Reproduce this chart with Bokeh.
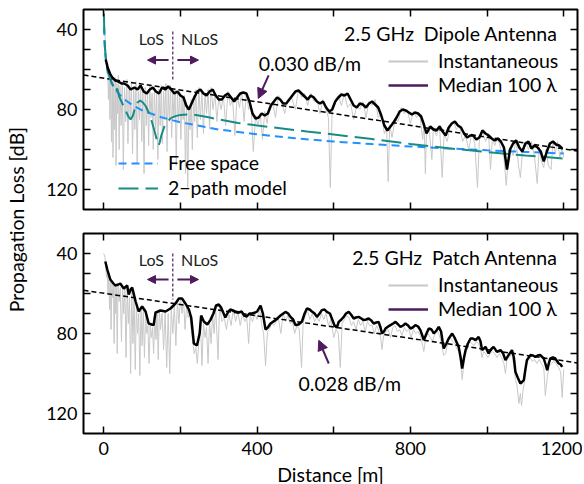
import numpy as np
from bokeh.plotting import figure
from bokeh.models import (Range1d, FixedTicker, LinearAxis, Legend, LegendItem,
                          Label, Arrow, NormalHead, Div)
from bokeh.layouts import row, column
from bokeh.embed import file_html
from bokeh.resources import INLINE

FONT = "Lato"
GRAY = "#c8c8c8"
PURPLE = "#4f1b5e"
BLUE = "#2390ff"
TEAL = "#178c86"

# ---------------- data ----------------
x_ticks = [0, 200, 400, 600, 800, 1000, 1200]
x_tick_labels = {0: "0", 200: "", 400: "400", 600: "", 800: "800", 1000: "", 1200: "1200"}
y_ticks = [40, 50, 60, 70, 80, 90, 100, 110, 120]
y_tick_labels = {40: "40", 50: "", 60: "", 70: "", 80: "80", 90: "", 100: "", 110: "", 120: "120"}

# top panel (dipole): instantaneous
top_inst_d = [0, 2, 4, 6, 8, 10, 12, 14, 16, 18,
              20, 22, 24, 26, 28, 30, 32, 34, 36, 38,
              40, 42, 45, 48, 51, 54, 57, 60, 63, 66,
              69, 72, 75, 78, 81, 84, 87, 90, 93, 96,
              99, 102, 105, 108, 111, 114, 117, 120, 123, 126,
              129, 132, 135, 138, 141, 144, 147, 150, 153, 156,
              159, 162, 165, 168, 171, 174, 177, 180, 183, 186,
              189, 192, 195, 198, 201, 204, 207, 210, 213, 216,
              219, 222, 225, 228, 231, 234, 237, 240, 244, 248,
              252, 256, 260, 264, 268, 272, 276, 280, 285, 290,
              295, 300, 306, 312, 318, 324, 330, 336, 342, 348,
              354, 360, 366, 372, 378, 384, 390, 396, 402, 408,
              414, 420, 426, 432, 440, 448, 456, 464, 472, 480,
              490, 500, 508, 516, 524, 532, 540, 548, 556, 564,
              572, 580, 586, 591, 596, 604, 612, 620, 628, 636,
              644, 652, 660, 668, 676, 684, 692, 700, 708, 716,
              724, 732, 738, 742, 746, 752, 760, 768, 776, 784,
              792, 800, 808, 816, 824, 832, 836, 839, 842, 848,
              856, 860, 868, 876, 883, 888, 896, 904, 912, 920,
              928, 936, 944, 952, 960, 968, 975, 980, 988, 996,
              1004, 1009, 1014, 1020, 1028, 1036, 1044, 1050, 1054, 1060,
              1068, 1076, 1082, 1087, 1092, 1100, 1108, 1116, 1124, 1131,
              1136, 1142, 1148, 1154, 1160, 1167, 1172, 1178, 1184, 1190,
              1196, 1200]
top_inst_db = [20, 38, 47, 53, 62, 57, 75, 60, 85, 62,
               96, 64, 104, 66, 90, 64, 108, 67, 82, 63,
               100, 68, 88, 66, 110, 69, 86, 65, 97, 70,
               84, 67, 102, 69, 90, 66, 107, 71, 85, 67,
               96, 70, 112, 69, 88, 71, 98, 68, 84, 72,
               100, 69, 90, 72, 105, 70, 88, 68, 97, 71,
               85, 67, 101, 70, 86, 68, 94, 72, 84, 70,
               108, 72, 86, 71, 95, 74, 85, 73, 112, 77,
               119, 79, 90, 75, 100, 73, 86, 70, 94, 69,
               85, 71, 92, 72, 82, 70, 90, 69, 80, 72,
               86, 74, 80, 73, 88, 71, 78, 75, 93, 73,
               79, 71, 86, 72, 80, 78, 101, 83, 88, 82,
               95, 81, 87, 79, 76, 84, 73, 76, 82, 75,
               74, 80, 70, 74, 72, 78, 72, 76, 75, 82,
               75, 80, 84, 119, 79, 75, 73, 78, 72, 79,
               77, 85, 78, 80, 76, 84, 76, 78, 75, 84,
               82, 92, 89, 116, 88, 94, 85, 86, 79, 82,
               80, 87, 81, 84, 82, 95, 87, 112, 91, 88,
               105, 89, 93, 88, 114, 92, 96, 88, 86, 90,
               88, 96, 93, 100, 92, 97, 119, 95, 91, 96,
               92, 110, 94, 98, 94, 100, 104, 118, 108, 99,
               103, 95, 108, 114, 102, 96, 100, 96, 104, 117,
               99, 106, 109, 100, 108, 110, 96, 102, 96, 104,
               99, 104]

# top panel: median over 100 lambda
top_med_d = [5, 10, 16, 22, 30, 38, 46, 53, 62, 70,
             80, 88, 96, 104, 112, 120, 128, 136, 144, 152,
             160, 168, 176, 184, 192, 200, 208, 215, 222, 229,
             236, 244, 252, 260, 268, 276, 284, 292, 300, 308,
             316, 324, 332, 340, 348, 356, 364, 372, 380, 388,
             396, 404, 412, 420, 428, 436, 444, 452, 460, 468,
             476, 484, 492, 500, 508, 516, 524, 532, 540, 548,
             556, 564, 572, 580, 588, 596, 604, 612, 620, 628,
             636, 644, 652, 660, 668, 676, 684, 692, 700, 708,
             716, 724, 732, 740, 748, 756, 764, 772, 780, 788,
             796, 804, 812, 820, 828, 836, 842, 852, 860, 868,
             876, 884, 892, 900, 908, 916, 924, 932, 940, 948,
             956, 964, 972, 980, 988, 996, 1004, 1012, 1020, 1028,
             1036, 1044, 1052, 1060, 1068, 1076, 1084, 1092, 1100, 1108,
             1116, 1124, 1132, 1140, 1148, 1156, 1164, 1172, 1180, 1188,
             1196]
top_med_db = [55, 59, 62, 64, 65.5, 66, 67, 67, 68, 70,
              69, 70, 68, 71, 72, 70, 69, 71, 72, 69,
              70, 68.5, 70, 72, 71, 73, 74, 78, 80, 77,
              74, 71, 70, 72, 73, 71, 70, 73, 75, 75,
              73, 72, 74, 76, 74, 72, 71.5, 72, 76, 82,
              84.5, 84, 82, 83, 82, 78, 76, 74, 75, 77,
              77, 75, 73, 71, 70.5, 72, 73.5, 75, 73, 74,
              76, 77, 76, 79, 81, 80, 76, 74, 72.5, 73,
              72, 75, 78, 79, 77, 77.5, 79, 77, 76, 77.5,
              79, 83, 88, 90.5, 88.5, 86.5, 84, 81, 80, 80.5,
              81.5, 82.5, 81.5, 82, 83.5, 88, 92, 88.5, 90, 90.5,
              88.5, 91, 93, 89, 87, 86, 88, 89, 92, 94,
              93, 93, 95, 94, 90.5, 92, 93, 94.5, 95.5, 94.5,
              96, 99, 110, 100, 97, 95.5, 99, 101, 97, 96,
              99.5, 98, 99, 101, 106, 101, 97, 96, 97.5, 98,
              99.5]

top_trend_d = [-53, 1236]
top_trend_db = [62.8, 100.8]

# free-space and 2-path model curves (top panel)
fs_d = [0.4, 1, 2, 3, 5, 8, 12, 20, 30, 50, 75, 100, 150, 200, 300, 400,
        500, 600, 700, 800, 900, 1000, 1100, 1200]
fs_db = [32.4, 40.4, 46.4, 50, 54.4, 58.5, 62, 66.4, 70, 74.4, 77.9, 80.4, 83.9, 86.4, 90, 92.4,
         94.4, 96, 97.3, 98.5, 99.5, 100.4, 101.2, 102]
tr_d = [0.4, 1, 2, 4, 7, 10, 14, 18, 22, 26,
        31, 35, 40, 46, 52, 58, 64, 70, 76, 82,
        88, 95, 102, 110, 118, 126, 134, 140, 143, 146,
        150, 158, 166, 175, 187, 200, 220, 240, 270, 300,
        350, 400, 465, 530, 600, 700, 800, 900, 1000, 1100, 1200]
tr_db = [32, 39.5, 46, 52, 57, 60.5, 63, 65.5, 67.5, 68.5,
         71, 69.5, 73.5, 76, 78.5, 81, 83.5, 85, 83, 79,
         76.5, 75.5, 76.5, 78.5, 82, 86.5, 92, 96.5, 98, 96.5,
         93, 88.5, 86, 84.3, 83.3, 82.7, 82.5, 82.8, 83.8, 85,
         86.7, 88, 89.5, 91, 92.5, 94.8, 97.2, 99.4, 101.3, 103, 104.5]

# bottom panel (patch): instantaneous
bot_inst_d = [0, 3, 5, 7, 9, 11, 13, 15, 17, 19,
              21, 23, 25, 27, 29, 31, 33, 35, 37, 40,
              43, 46, 49, 52, 55, 58, 61, 64, 67, 70,
              73, 76, 79, 82, 85, 88, 91, 94, 97, 100,
              103, 106, 109, 112, 115, 118, 121, 124, 127, 130,
              133, 136, 139, 142, 145, 148, 152, 156, 160, 164,
              168, 172, 176, 180, 184, 188, 192, 196, 200, 204,
              208, 212, 216, 220, 224, 228, 232, 236, 240, 244,
              248, 252, 256, 260, 264, 268, 272, 276, 280, 284,
              288, 292, 298, 302, 308, 314, 320, 326, 332, 338,
              344, 350, 356, 362, 368, 373, 378, 382, 388, 394,
              400, 406, 412, 417, 422, 427, 432, 438, 444, 450,
              456, 462, 468, 474, 480, 486, 492, 498, 504, 510,
              516, 520, 526, 532, 538, 544, 550, 556, 562, 568,
              574, 580, 586, 592, 600, 606, 612, 617, 622, 628,
              634, 640, 646, 652, 658, 664, 670, 676, 682, 688,
              694, 700, 706, 712, 718, 722, 726, 730, 736, 742,
              748, 754, 760, 766, 772, 778, 784, 790, 796, 802,
              808, 814, 820, 826, 831, 835, 840, 846, 852, 858,
              864, 870, 876, 882, 887, 892, 898, 904, 910, 916,
              922, 928, 932, 935, 938, 942, 948, 954, 960, 966,
              972, 978, 983, 987, 991, 996, 1002, 1008, 1014, 1020,
              1026, 1032, 1038, 1044, 1048, 1052, 1058, 1064, 1070, 1074,
              1078, 1083, 1087, 1090, 1094, 1098, 1102, 1106, 1112, 1118,
              1124, 1130, 1136, 1142, 1148, 1152, 1157, 1162, 1168, 1174,
              1180, 1186, 1192, 1196, 1200]
bot_inst_db = [40, 42, 47, 52, 48, 60, 51, 68, 54, 78,
               55, 62, 56, 85, 55, 70, 57, 90, 56, 64,
               57, 84, 58, 70, 57, 92, 57, 75, 62, 100,
               58, 85, 60, 98, 66, 80, 70, 101, 68, 86,
               68, 92, 70, 80, 76, 95, 76, 82, 77, 90,
               72, 83, 69, 93, 68, 78, 70, 88, 69, 97,
               70, 100, 68, 80, 66, 86, 64, 75, 62, 70,
               63, 78, 66, 72, 70, 78, 84, 90, 87, 95,
               84, 74, 96, 75, 82, 77, 95, 74, 85, 71,
               80, 67, 93, 66, 74, 72, 78, 70, 76, 68,
               74, 69, 76, 70, 74, 72, 85, 71, 74, 70,
               73, 67, 76, 80, 96, 79, 78, 75, 76, 74,
               73, 80, 70, 74, 71, 75, 74, 80, 76, 78,
               97, 75, 71, 69, 73, 70, 74, 72, 74, 70,
               73, 70, 76, 73, 82, 78, 80, 97, 75, 73,
               71, 72, 76, 74, 78, 73, 76, 74, 79, 74,
               76, 76, 80, 76, 79, 82, 88, 81, 79, 78,
               82, 77, 76, 79, 78, 81, 77, 79, 78, 82,
               78, 80, 79, 81, 85, 89, 82, 80, 82, 84,
               80, 79, 81, 86, 91, 90, 84, 82, 84, 85,
               88, 89, 96, 103, 98, 91, 88, 84, 85, 86,
               84, 85, 88, 92, 89, 90, 92, 90, 89, 90,
               92, 90, 92, 95, 100, 93, 92, 90, 96, 103,
               106, 115, 110, 116, 108, 104, 96, 94, 92, 94,
               93, 95, 93, 95, 97, 111, 102, 96, 95, 94,
               95, 97, 99, 112, 98]

# bottom panel: median over 100 lambda
bot_med_d = [4, 9, 17, 25, 30, 38, 43, 52, 61, 65,
             70, 74, 83, 91, 100, 109, 117, 125, 130, 135,
             148, 161, 174, 187, 196, 204, 213, 222, 228, 235,
             243, 250, 254, 261, 270, 278, 286, 293, 300, 306,
             317, 325, 330, 343, 352, 360, 366, 373, 380, 387,
             395, 400, 409, 415, 422, 428, 435, 448, 461, 474,
             481, 487, 494, 500, 508, 517, 524, 530, 537, 543,
             550, 556, 563, 569, 576, 582, 590, 595, 602, 608,
             613, 620, 626, 632, 639, 645, 652, 658, 665, 672,
             678, 685, 691, 698, 704, 711, 717, 722, 726, 731,
             735, 742, 748, 755, 761, 768, 774, 781, 787, 794,
             800, 806, 813, 820, 826, 831, 835, 842, 848, 855,
             861, 868, 874, 880, 884, 887, 894, 900, 909, 915,
             922, 926, 931, 935, 940, 944, 950, 957, 963, 970,
             978, 983, 987, 996, 1004, 1010, 1017, 1026, 1035, 1042,
             1048, 1056, 1065, 1070, 1074, 1080, 1087, 1096, 1100, 1104,
             1113, 1120, 1126, 1132, 1139, 1148, 1152, 1157, 1161, 1165,
             1172, 1178, 1187, 1192, 1196]
bot_med_db = [44, 48, 53, 55, 56, 55.5, 55, 57.5, 56, 60.5,
              58, 57, 64, 69, 66.5, 69, 75, 75.5, 75.8, 69.5,
              68.5, 69, 67.5, 65, 62.5, 62.5, 65, 68, 72, 85,
              86, 80, 71, 74, 75.5, 73.3, 70, 66, 65.5, 67,
              72, 69, 68, 69, 69.5, 69, 71, 71.5, 70, 70,
              69.5, 69, 66, 70, 78, 77, 75, 73.3, 71, 69.2,
              70, 71.7, 73, 75.8, 75.5, 74, 70, 67.5, 68, 69,
              70, 71.7, 70, 68.3, 68, 69.2, 70, 72.5, 76, 77,
              74.2, 73, 71.7, 70, 69.2, 70.5, 72.5, 72, 71.7, 72.5,
              73.3, 73, 72.5, 73.5, 75, 74.5, 74.2, 77, 80, 79,
              77.5, 76.5, 75.8, 75, 74.2, 75.5, 76.7, 76, 75, 76,
              77.5, 77, 75.8, 76.5, 78.3, 81, 83.3, 80, 77.5, 78,
              80, 78.5, 76.7, 79, 84, 87.5, 85, 82.5, 80, 82,
              85, 86.7, 92, 97.5, 92, 88.3, 85, 82.5, 82.5, 83.3,
              81.7, 84, 88.3, 86.7, 90, 88, 86.7, 89.2, 88.3, 90,
              93.3, 90.8, 88.3, 92, 99.2, 102, 105, 103.3, 98, 93.3,
              90.8, 91, 91.7, 91, 90.8, 92.5, 95, 98.3, 95, 92.5,
              92, 92.5, 95, 95.5, 96.7]

bot_trend_d = [-53, 1236]
bot_trend_db = [58.4, 94.7]

# legend proxies: a single blank point, so nothing is drawn in the frame
proxy_x = [np.nan]
proxy_y = [np.nan]


# ---------------- helpers ----------------
def style_axis(ax, ticks, overrides, show_labels, standoff=6):
    ax.ticker = FixedTicker(ticks=ticks)
    ax.major_label_overrides = overrides
    ax.major_tick_in = 7
    ax.major_tick_out = 0
    ax.major_tick_line_width = 1.5
    ax.major_tick_line_color = "black"
    ax.minor_tick_line_color = None
    ax.axis_line_color = None
    if show_labels:
        ax.major_label_text_font = FONT
        ax.major_label_text_font_size = "18px"
        ax.major_label_text_color = "black"
        ax.major_label_standoff = standoff
    else:
        ax.major_label_text_font_size = "0px"
        ax.major_label_standoff = 0


def make_panel(top_border, bottom_border, show_x_labels):
    p = figure(frame_width=494, frame_height=200,
               x_range=Range1d(-53, 1236), y_range=Range1d(130, 30),
               output_backend="svg", toolbar_location=None,
               min_border_left=49, min_border_right=5,
               min_border_top=top_border, min_border_bottom=bottom_border,
               background_fill_color="white", border_fill_color="white",
               outline_line_color="black", outline_line_width=2)
    p.grid.visible = False
    p.add_layout(LinearAxis(), "right")
    p.add_layout(LinearAxis(), "above")
    for ax in p.xaxis:
        style_axis(ax, x_ticks, x_tick_labels, False)
    for ax in p.yaxis:
        style_axis(ax, y_ticks, y_tick_labels, False)
    style_axis(p.left[0], y_ticks, y_tick_labels, True, 6)
    if show_x_labels:
        style_axis(p.below[0], x_ticks, x_tick_labels, True, 8)
    return p


def make_legend(items, loc, spacing):
    return Legend(items=items, location=loc, glyph_width=40, glyph_height=20,
                  label_standoff=10, spacing=spacing, padding=0, margin=0,
                  border_line_color=None, background_fill_alpha=0,
                  label_text_font=FONT, label_text_font_size="19.5px",
                  label_text_color="black", label_height=20)


def add_legend(p, title):
    g = p.line(proxy_x, proxy_y, line_color=GRAY, line_width=2)
    m = p.line(proxy_x, proxy_y, line_color=PURPLE, line_width=2.5)
    p.add_layout(make_legend([LegendItem(label="Instantaneous", renderers=[g]),
                              LegendItem(label="Median 100 \u03bb", renderers=[m])],
                             (305, 113), 1))
    p.add_layout(Label(x=1184, y=41.9, text=title, text_align="right",
                       text_baseline="middle", text_font=FONT,
                       text_font_size="19.5px", text_color="black"))


def add_los(p, y_text, y_arrow, y0, y1):
    p.segment(x0=[180], y0=[y0], x1=[180], y1=[y1], line_color=PURPLE,
              line_width=1.2, line_dash="3 2")
    for xt, txt in ((124, "LoS"), (250, "NLoS")):
        p.add_layout(Label(x=xt, y=y_text, text=txt, text_align="center",
                           text_baseline="middle", text_font=FONT,
                           text_font_size="16px", text_color="#222222"))
    for xs, xe in ((169, 114), (192, 247)):
        p.add_layout(Arrow(end=NormalHead(size=8, fill_color=PURPLE, line_color=PURPLE),
                           x_start=xs, y_start=y_arrow, x_end=xe, y_end=y_arrow,
                           line_color=PURPLE, line_width=2))


# ---------------- top panel ----------------
p1 = make_panel(9, 12, False)
p1.line(top_inst_d, top_inst_db, line_color=GRAY, line_width=1)
p1.line(top_trend_d, top_trend_db, line_color="black", line_width=1.5, line_dash="5 3")
r_fs = p1.line(fs_d, fs_db, line_color=BLUE, line_width=2, line_dash="8 5")
r_tr = p1.line(tr_d, tr_db, line_color=TEAL, line_width=2, line_dash="20 7")
p1.line(top_med_d, top_med_db, line_color="black", line_width=2.5)
add_legend(p1, "2.5 GHz\u2002Dipole Antenna")
p1.add_layout(make_legend([LegendItem(label="Free space", renderers=[r_fs]),
                           LegendItem(label="2\u2212path model", renderers=[r_tr])],
                          (35, 10), 2))

p1.add_layout(Label(x=404, y=57, text="0.030 dB/m", text_align="left",
                    text_baseline="middle", text_font=FONT,
                    text_font_size="19.5px", text_color="black"))
p1.add_layout(Arrow(end=NormalHead(size=10, fill_color=PURPLE, line_color=PURPLE),
                    x_start=430, y_start=62.9, x_end=403, y_end=74.5,
                    line_color=PURPLE, line_width=2))
add_los(p1, 44.5, 55.3, 41, 66)

# ---------------- bottom panel ----------------
p2 = make_panel(12, 0, True)
xb = p2.below[0]
xb.axis_label = "Distance [m]"
xb.axis_label_text_font = FONT
xb.axis_label_text_font_size = "19.5px"
xb.axis_label_text_font_style = "normal"
xb.axis_label_text_color = "black"
xb.axis_label_standoff = 5
p2.line(bot_inst_d, bot_inst_db, line_color=GRAY, line_width=1)
p2.line(bot_trend_d, bot_trend_db, line_color="black", line_width=1.5, line_dash="5 3")
p2.line(bot_med_d, bot_med_db, line_color="black", line_width=2.5)
add_legend(p2, "2.5 GHz\u2002Patch Antenna")

p2.add_layout(Label(x=508, y=104.8, text="0.028 dB/m", text_align="left",
                    text_baseline="middle", text_font=FONT,
                    text_font_size="19.5px", text_color="black"))
p2.add_layout(Arrow(end=NormalHead(size=10, fill_color=PURPLE, line_color=PURPLE),
                    x_start=587, y_start=95, x_end=561, y_end=83.4,
                    line_color=PURPLE, line_width=2))
add_los(p2, 43, 53, 40, 63)

ylab = Div(text=('<div style="width:34px;height:440px;display:flex;align-items:center;'
                 'justify-content:center;">'
                 '<span style="writing-mode:vertical-rl;transform:rotate(180deg);'
                 'font-family:Lato;font-size:19.5px;white-space:nowrap;color:black;">'
                 'Propagation Loss [dB]</span></div>'),
           width=34, height=440, margin=0)

layout = row(ylab, column(p1, p2))

with open("out.html", "w") as f:
    f.write(file_html(layout, INLINE))
